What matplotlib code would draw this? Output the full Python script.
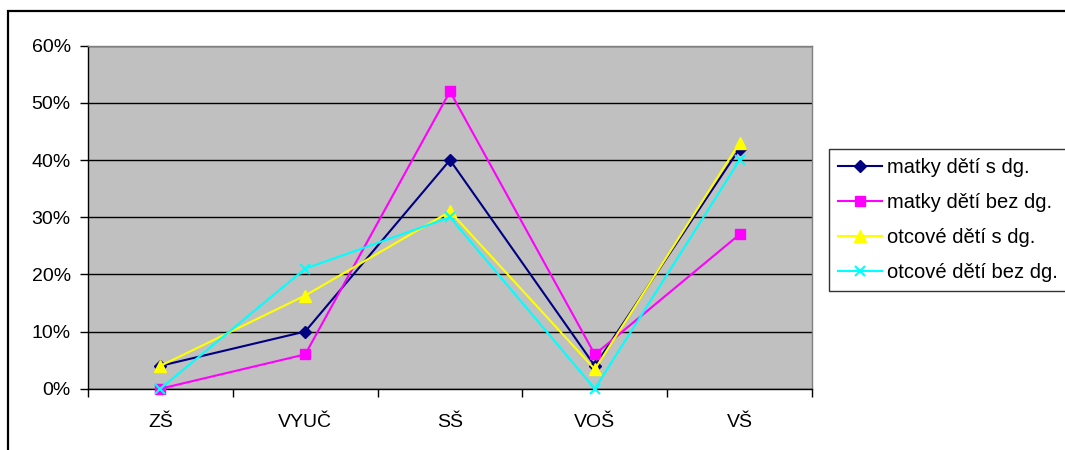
import matplotlib
matplotlib.use("Agg")
import matplotlib.pyplot as plt
from matplotlib.patches import Rectangle
from matplotlib.ticker import FixedLocator, PercentFormatter

plt.rcParams['font.family'] = ['Liberation Sans', 'DejaVu Sans']

categories = ["ZŠ", "VYUČ", "SŠ", "VOŠ", "VŠ"]
series_names = ["matky dětí s dg.", "matky dětí bez dg.",
                "otcové dětí s dg.", "otcové dětí bez dg."]
matky_s_dg = [4, 10, 40, 4, 42]
matky_bez_dg = [0, 6, 52, 6, 27]
otcove_s_dg = [4, 16.3, 31, 3.4, 43]
otcove_bez_dg = [0, 21, 30, 0, 40]

styles = [
    dict(color="#000080", marker="D", markersize=6.5),
    dict(color="#FF00FF", marker="s", markersize=7),
    dict(color="#FFFF00", marker="^", markersize=8.5),
    dict(color="#00FFFF", marker="x", markersize=7.5, markeredgewidth=1.5),
]

W, H = 1065, 450
fig = plt.figure(figsize=(W / 100, H / 100), dpi=100)

# outer chart frame
fig.patches.append(Rectangle((8 / W, -0.1), 1.2, 1 - 11 / H + 0.1,
                             transform=fig.transFigure, fill=False,
                             edgecolor="black", linewidth=1.6))

ax = fig.add_axes([88 / W, 1 - 388.7 / H, (812 - 88) / W, (388.7 - 45.7) / H])
ax.set_facecolor("#C0C0C0")

x = list(range(len(categories)))
for name, vals, st in zip(series_names,
                          [matky_s_dg, matky_bez_dg, otcove_s_dg, otcove_bez_dg],
                          styles):
    ax.plot(x, vals, linewidth=1.5, label=name, clip_on=False, zorder=3,
            markeredgecolor=st["color"], **st)

ax.set_xlim(-0.5, len(categories) - 0.5)
ax.set_ylim(0, 60)
ax.set_yticks(range(0, 61, 10))
ax.yaxis.set_major_formatter(PercentFormatter(decimals=0))
ax.yaxis.grid(True, color="black", linewidth=1)
ax.set_axisbelow(True)

ax.set_xticks(x)
ax.set_xticklabels(categories)
ax.xaxis.set_minor_locator(FixedLocator([i - 0.5 for i in range(len(categories) + 1)]))
ax.tick_params(axis="x", which="major", length=0, pad=18, labelsize=14)
ax.tick_params(axis="x", which="minor", length=5.5, width=1, direction="out")
ax.tick_params(axis="y", length=5.5, width=1, direction="out", labelsize=14, pad=7)

for side in ("top", "right"):
    ax.spines[side].set_color("#808080")
    ax.spines[side].set_linewidth(1)
for side in ("left", "bottom"):
    ax.spines[side].set_color("black")
    ax.spines[side].set_linewidth(1)

leg = fig.legend(loc="upper left", bbox_to_anchor=(829 / W, 1 - 149 / H),
                 bbox_transform=fig.transFigure, fontsize=14.5, frameon=True,
                 fancybox=False, edgecolor="black", handlelength=2.2,
                 handletextpad=0.25, labelspacing=0.8, borderpad=0.45,
                 borderaxespad=0)
leg.get_frame().set_linewidth(1)

fig.savefig("out.png", dpi=100)
